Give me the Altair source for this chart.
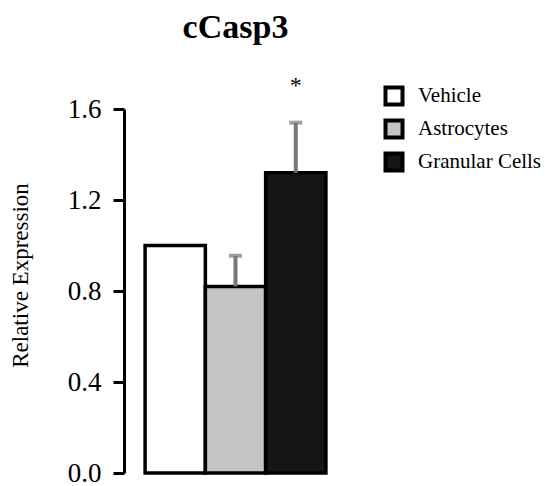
import altair as alt
import pandas as pd

groups = ["Vehicle", "Astrocytes", "Granular Cells"]
means = [1.0, 0.82, 1.32]
errors = [0.0, 0.135, 0.22]
fills = ["#ffffff", "#c4c4c4", "#151515"]
star_labels = ["", "", "*"]

df = pd.DataFrame({
    "group": groups,
    "mean": means,
    "upper": [m + e for m, e in zip(means, errors)],
    "err": errors,
    "star": star_labels,
    "stary": [1.70, 1.70, 1.70],
})

FONT = "Liberation Serif"

x = alt.X("group:N", sort=groups, axis=None,
          scale=alt.Scale(paddingInner=0, paddingOuter=0.35))
ycfg = alt.Scale(domain=[0, 1.6], nice=False)

bars = alt.Chart(df).mark_bar(stroke="black", strokeWidth=3.5).encode(
    x=x,
    y=alt.Y("mean:Q", scale=ycfg,
            axis=alt.Axis(values=[0, 0.4, 0.8, 1.2, 1.6], format=".1f",
                          title="Relative Expression", grid=False,
                          domainColor="black", domainWidth=3,
                          tickColor="black", tickWidth=3, tickSize=11,
                          labelFont=FONT, labelFontSize=27, labelColor="black",
                          labelPadding=12, titleFont=FONT, titleFontSize=23,
                          titleFontWeight="normal", titleColor="black",
                          titlePadding=35, titleY=166)),
    fill=alt.Fill("group:N", sort=groups,
                  scale=alt.Scale(domain=groups, range=fills),
                  legend=alt.Legend(title=None, orient="none", legendX=259,
                                    legendY=-24, symbolType="square",
                                    symbolSize=290, symbolStrokeColor="black",
                                    symbolStrokeWidth=4, labelFont=FONT,
                                    labelFontSize=21, labelColor="black",
                                    rowPadding=-1, labelOffset=13)),
)

err_df = df[df["err"] > 0]
rules = alt.Chart(err_df).mark_rule(color="#777777", strokeWidth=4).encode(
    x=x, y=alt.Y("mean:Q", scale=ycfg), y2="upper:Q")
caps = alt.Chart(err_df).mark_tick(color="#777777", thickness=4, size=13).encode(
    x=x, y=alt.Y("upper:Q", scale=ycfg))
stars = alt.Chart(df).mark_text(font=FONT, fontSize=24, color="black",
                                baseline="middle").encode(
    x=x, y=alt.Y("stary:Q", scale=ycfg), text="star:N")

chart = alt.layer(bars, rules, caps, stars).properties(
    width=223, height=364,
    title=alt.TitleParams("cCasp3", font=FONT, fontSize=34, fontWeight="bold",
                          color="black", offset=29, anchor="middle"),
    autosize=alt.AutoSizeParams(type="none"),
    padding={"left": 116, "top": 101, "right": 201, "bottom": 15},
).configure_view(stroke=None)

chart.save("out.html", embed_options={"renderer": "svg", "actions": False})
